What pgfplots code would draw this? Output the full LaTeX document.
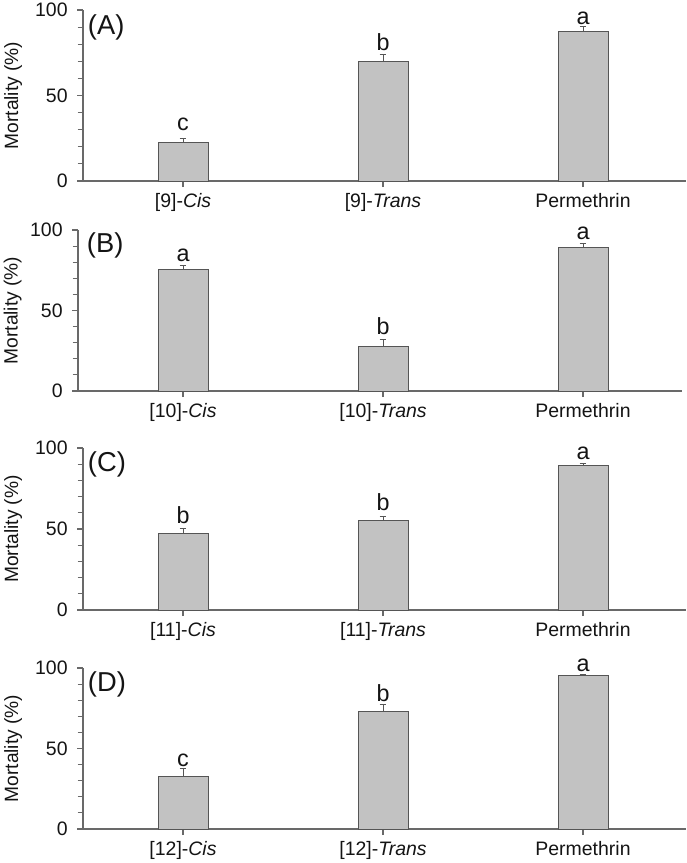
\documentclass[border=0pt]{standalone}
\usepackage{pgfplots}
\pgfplotsset{compat=1.18}
\usepackage{fontspec}
\setmainfont{Liberation Sans}
\definecolor{axisgray}{RGB}{105,105,105}
\definecolor{barfill}{RGB}{194,194,194}
\definecolor{baredge}{RGB}{85,85,85}
\definecolor{textc}{RGB}{20,20,20}
\pgfplotsset{
  panel/.style={
    scale only axis, width=452.25pt,
    xmin=-0.5, xmax=2.515, ymin=0, ymax=100,
    axis lines*=left,
    axis line style={color=axisgray, line width=0.9pt},
    ytick={0,50,100}, minor y tick num=4, xtick={0,1,2},
    tick align=outside, major tick length=4.5pt, minor tick length=4pt,
    tick style={color=axisgray, line width=0.8pt},
    every tick label/.append style={font=\fontsize{14.6}{16}\selectfont, text=textc},
    yticklabel style={xshift=-3.5pt},
    xticklabel style={yshift=-1.5pt},
    /pgf/number format/assume math mode=true,
    ylabel={Mortality (\%)},
    ylabel style={at={(axis description cs:-0.116,0.5)}, anchor=center, font=\fontsize{14.4}{16}\selectfont, text=textc},
    clip=false,
    ybar, bar width=0.25,
  },
  barsty/.style={fill=barfill, draw=baredge, line width=0.7pt,
    error bars/.cd, y dir=plus, y explicit,
    error bar style={color=baredge, line width=0.7pt},
    error mark options={rotate=90, mark size=2.6pt, color=baredge, line width=0.7pt}},
}
\tikzset{
  letter/.style={anchor=base, inner sep=0pt, font=\fontsize{17.5}{20}\selectfont, text=textc},
  plabel/.style={anchor=north west, inner sep=0pt, font=\fontsize{20.5}{23}\selectfont, text=textc},
}
\begin{document}
\begin{tikzpicture}
\path[use as bounding box] (0,0) rectangle (514.5pt,-647.25pt);
% (A)
\begin{axis}[panel, height=128.25pt, at={(62.25pt,-135.75pt)}, anchor=south west,
  xticklabels={{[9]-\textit{Cis}},{[9]-\textit{Trans}},{Permethrin}}]
\addplot[barsty] coordinates {(0,22.4) +- (0,2.6) (1,69.8) +- (0,4.2) (2,87.5) +- (0,3.1)};
\node[letter] at (axis cs:0,29.4) {c};
\node[letter] at (axis cs:1,76.6) {b};
\node[letter] at (axis cs:2,91.6) {a};
\node[plabel] at (rel axis cs:0,1) [xshift=3.5pt, yshift=-3pt] {(A)};
\end{axis}
% (B)
\begin{axis}[panel, height=120.75pt, at={(58.5pt,-293.25pt)}, anchor=south west,
  xmin=-0.525, xmax=2.495, width=453pt,
  ylabel style={at={(axis description cs:-0.108,0.5)}},
  xticklabels={{[10]-\textit{Cis}},{[10]-\textit{Trans}},{Permethrin}}]
\addplot[barsty] coordinates {(0,75.5) +- (0,2.7) (1,27.6) +- (0,4.6) (2,89.0) +- (0,2.5)};
\node[letter] at (axis cs:0,80.3) {a};
\node[letter] at (axis cs:1,35.3) {b};
\node[letter] at (axis cs:2,93.8) {a};
\node[plabel] at (rel axis cs:0,1) [xshift=6.5pt, yshift=-1.5pt] {(B)};
\end{axis}
% (C)
\begin{axis}[panel, height=121.5pt, at={(62.25pt,-457.5pt)}, anchor=south west,
  xticklabels={{[11]-\textit{Cis}},{[11]-\textit{Trans}},{Permethrin}}]
\addplot[barsty] coordinates {(0,47.3) +- (0,3.1) (1,55.3) +- (0,2.7) (2,89.5) +- (0,1.0)};
\node[letter] at (axis cs:0,53.3) {b};
\node[letter] at (axis cs:1,61.5) {b};
\node[letter] at (axis cs:2,93.2) {a};
\node[plabel] at (rel axis cs:0,1) [xshift=3.5pt, yshift=-2.5pt] {(C)};
\end{axis}
% (D)
\begin{axis}[panel, height=120.75pt, at={(62.25pt,-621.75pt)}, anchor=south west,
  xticklabels={{[12]-\textit{Cis}},{[12]-\textit{Trans}},{Permethrin}}]
\addplot[barsty] coordinates {(0,32.5) +- (0,4.8) (1,72.9) +- (0,4.4) (2,95.3) +- (0,0.8)};
\node[letter] at (axis cs:0,39.1) {c};
\node[letter] at (axis cs:1,78.9) {b};
\node[letter] at (axis cs:2,98.0) {a};
\node[plabel] at (rel axis cs:0,1) [xshift=3.5pt, yshift=-2.5pt] {(D)};
\end{axis}
\end{tikzpicture}
\end{document}
